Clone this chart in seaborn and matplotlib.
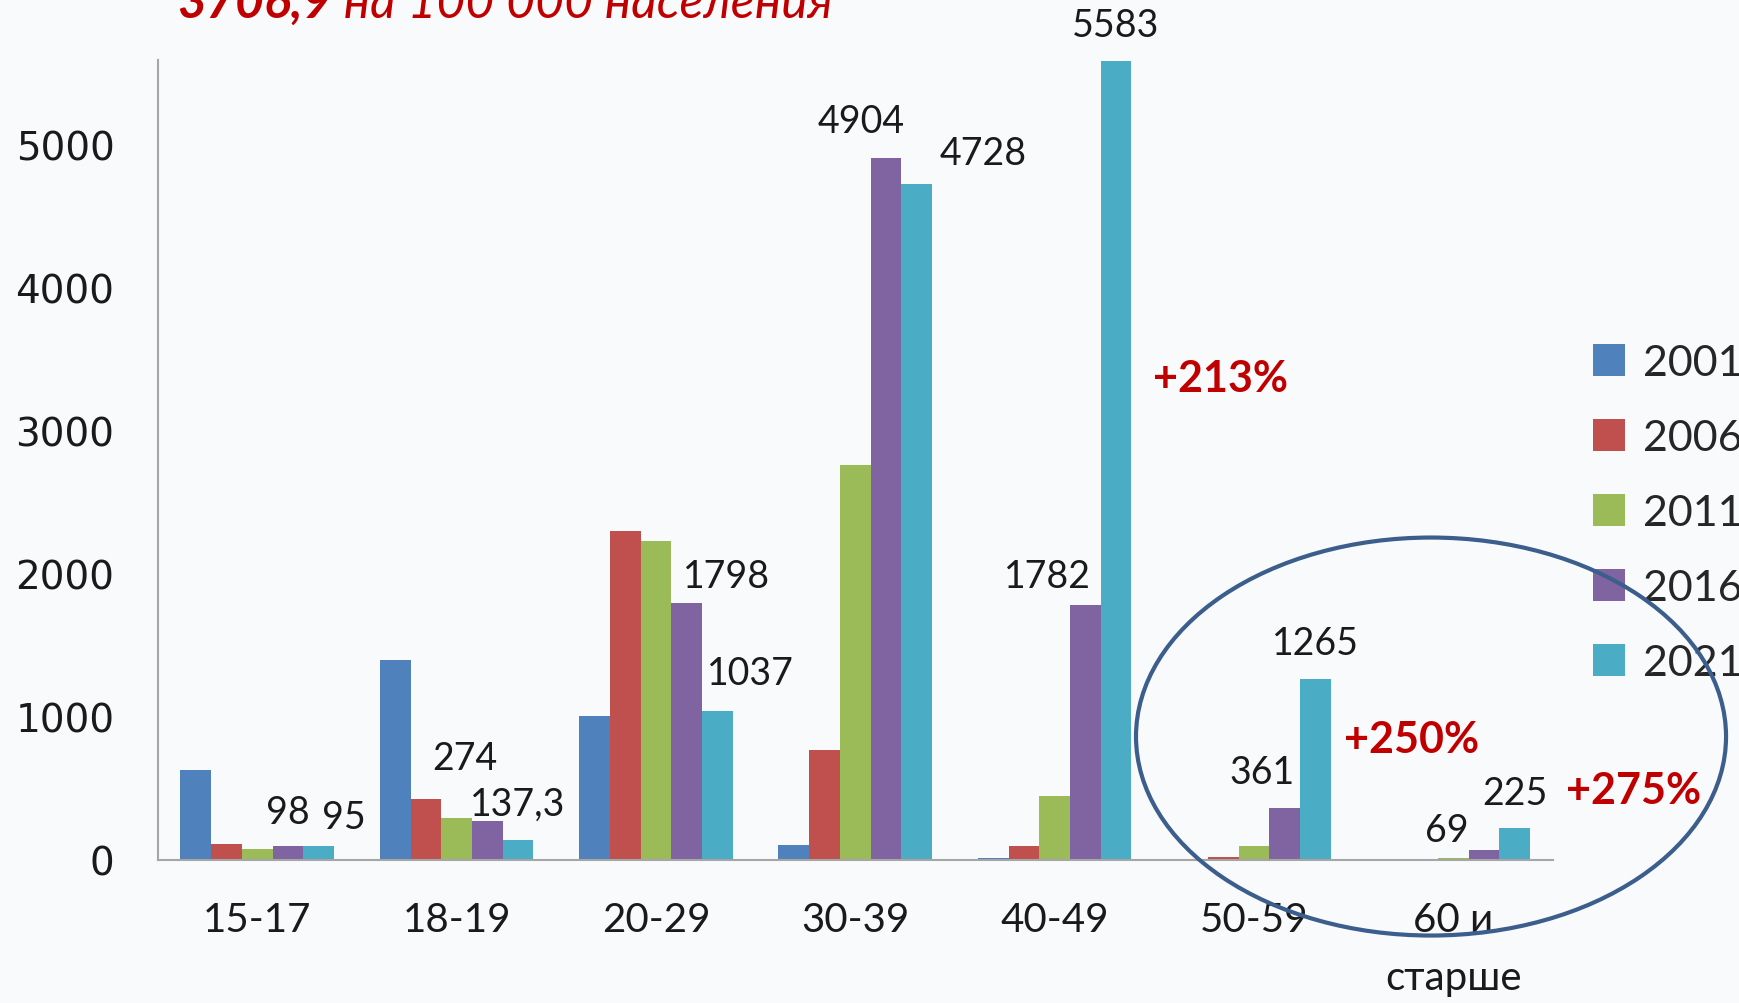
import pandas as pd
import numpy as np
import matplotlib.pyplot as plt
import seaborn as sns
from matplotlib.patches import Ellipse

ages = ["15-17", "18-19", "20-29", "30-39", "40-49", "50-59", "60 и\nстарше"]
years = ["2001", "2006", "2011", "2016", "2021"]
v2001 = [628, 1398, 1005, 100, 12, 0, 0]
v2006 = [112, 423, 2300, 768, 93, 19, 0]
v2011 = [77, 291, 2230, 2762, 444, 95, 10]
v2016 = [98, 274, 1798, 4904, 1782, 361, 69]
v2021 = [95, 137.3, 1037, 4728, 5583, 1265, 225]
colors = ["#4F81BD", "#C0504D", "#9BBB59", "#8064A2", "#4BACC6"]
yticks = [0, 1000, 2000, 3000, 4000, 5000]

# value labels that are shown on the slide: (age index, year index, text)
shown = [(0, 3, "98"), (0, 4, "95"), (1, 3, "274"), (1, 4, "137,3"),
         (2, 3, "1798"), (2, 4, "1037"), (3, 3, "4904"), (3, 4, "4728"),
         (4, 3, "1782"), (4, 4, "5583"), (5, 3, "361"), (5, 4, "1265"),
         (6, 3, "69"), (6, 4, "225")]
# label offsets in points (dx, dy) from bar top
offs = [(0, 24), (18, 21), (-16, 45), (0, 26), (29, 19), (24, 28), (-18, 27),
        (48, 22), (-27, 21), (0, 26), (-16, 26), (0, 26), (-27, 14), (0, 25)]

df = pd.DataFrame({"age": ages * 5,
                   "year": np.repeat(years, len(ages)),
                   "value": v2001 + v2006 + v2011 + v2016 + v2021})

bg = "#F9FAFC"
fonts = ["Lato", "Noto Sans", "DejaVu Sans"]
sns.set_style("white")
plt.rcParams["font.family"] = fonts

fig = plt.figure(figsize=(17.39, 10.04), dpi=100, facecolor=bg)
ax = fig.add_axes([0.0906, 0.1427, 0.8024, 0.7963])
ax.set_facecolor(bg)

sns.barplot(data=df, x="age", y="value", hue="year", palette=colors,
            width=0.77, saturation=1, ax=ax, legend=True, linewidth=0)

ax.set_xlim(-0.5, 6.5)
ax.set_ylim(0, 5590)
ax.set_xlabel("")
ax.set_ylabel("")
ax.set_yticks(yticks)
ax.set_yticklabels([str(v) for v in yticks], family=["DejaVu Sans"],
                   fontsize=28)
ax.tick_params(axis="y", length=11, width=1.5, color="#A6A6A6",
               pad=20, labelcolor="#1a1a1a", direction="out")
ax.tick_params(axis="x", which="major", length=0, labelsize=29, pad=30,
               labelcolor="#1a1a1a")
for t in ax.get_xticklabels():
    t.set_linespacing(1.7)
ax.set_xticks(np.arange(-0.5, 7, 1), minor=True)
ax.tick_params(axis="x", which="minor", length=13, width=1.5, color="#A6A6A6",
               direction="out")
for sp in ["top", "right"]:
    ax.spines[sp].set_visible(False)
for sp in ["left", "bottom"]:
    ax.spines[sp].set_color("#A6A6A6")
    ax.spines[sp].set_linewidth(1.5)

# value labels
for (gi, yi, txt), (dx, dy) in zip(shown, offs):
    bar = ax.containers[yi][gi]
    x = bar.get_x() + bar.get_width() / 2
    y = bar.get_height()
    ax.annotate(txt, (x, y), xytext=(dx, dy), textcoords="offset points",
                ha="center", va="center", fontsize=27, color="#1a1a1a")

# growth notes
red = "#C00000"
ax.text(4.83, 3367, "+213%", color=red, fontsize=31, fontweight="bold",
        ha="center", va="center")
ax.text(5.79, 844, "+250%", color=red, fontsize=31, fontweight="bold",
        ha="center", va="center")
ax.text(6.907, 488, "+275%", color=red, fontsize=31, fontweight="bold",
        ha="center", va="center", clip_on=False)

# ellipse around older groups
fig.patches.append(Ellipse((0.8229, 0.2654), 0.3393, 0.3964,
                           transform=fig.transFigure, fill=False,
                           edgecolor="#3B5E8C", linewidth=3))

# legend
handles, labels = ax.get_legend_handles_labels()
ax.legend(handles, labels, loc="upper left",
          bbox_to_anchor=(1593 / 1739, 1 - 345 / 1004),
          bbox_transform=fig.transFigure, frameon=False, fontsize=31,
          handlelength=0.75, handleheight=0.75, handletextpad=0.4,
          labelspacing=0.86, borderpad=0, borderaxespad=0)

# title cut off at top
t1 = fig.text(0.102, 0.982, "3706,9", color=red, fontsize=36,
              fontweight="bold", fontstyle="italic", va="baseline", ha="left")
fig.canvas.draw()
bb = t1.get_window_extent()
fig.text(bb.x1 / fig.bbox.width, 0.982, " на 100 000 населения", color=red,
         fontsize=36, fontstyle="italic", va="baseline", ha="left")

fig.savefig("out.png", dpi=100, facecolor=bg)
